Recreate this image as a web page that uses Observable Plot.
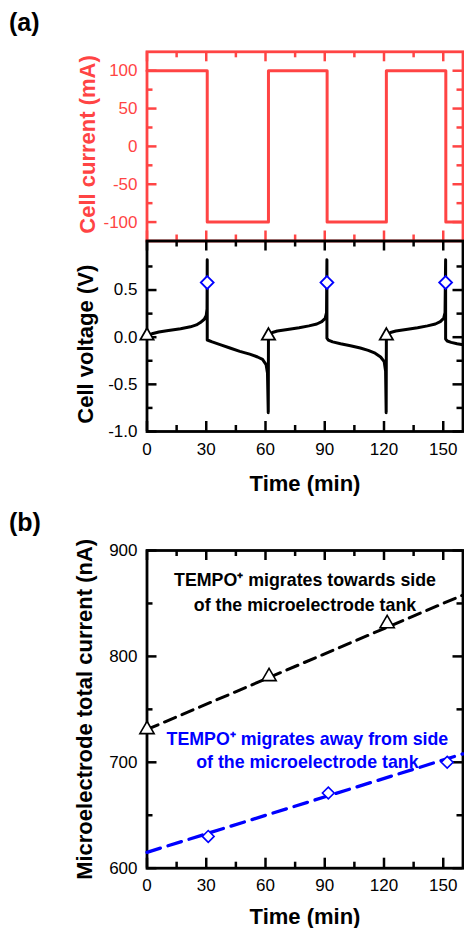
<!DOCTYPE html>
<html>
<head>
<meta charset="utf-8">
<script src="https://cdn.jsdelivr.net/npm/d3@7"></script>
<script src="https://cdn.jsdelivr.net/npm/@observablehq/plot@0.6"></script>
<style>
  body { margin: 0; background: #fff; }
  #wrap { position: relative; width: 464px; height: 928px; overflow: hidden; font-family: Arial, "Liberation Sans", sans-serif; }
  #wrap > svg, #wrap > figure { position: absolute; left: 0; margin: 0; }
  .tag { position: absolute; left: 9px; font-weight: bold; font-size: 25px; line-height: 1; color: #000; }
</style>
</head>
<body>
<div id="wrap">
  <div class="tag" style="top:10px">(a)</div>
  <div class="tag" style="top:510px">(b)</div>
</div>
<script>
// ---------- data ----------
const timeTicks = [0, 30, 60, 90, 120, 150];
const timeMinorTicks = [15, 45, 75, 105, 135];
const currentTicks = [-100, -50, 0, 50, 100];
const currentMinorTicks = [-75, -25, 25, 75];
const voltageTicks = [-1.0, -0.5, 0.0, 0.5];
const voltageMinorTicks = [-0.75, -0.25, 0.25, 0.75];
const totalTicks = [600, 700, 800, 900];
const totalMinorTicks = [650, 750, 850];

// cell current square wave (mA)
const currentTime  = [0, 30.5, 30.5, 61.5, 61.5, 91.2, 91.2, 121.2, 121.2, 151.3, 151.3, 160];
const currentValue = [100, 100, -100, -100, 100, 100, -100, -100, 100, 100, -100, -100];

// cell voltage (V)
const voltageTime = [
  0, 1, 3, 6, 10, 17, 22, 25, 27, 29, 30, 30.4, 30.5, 30.5,
  31.2, 33, 37, 42, 47, 52, 56, 58.5, 60.3, 61.0, 61.4, 61.5,
  62.2, 63.5, 66, 72, 77, 82, 86, 88.5, 90.2, 90.9, 91.1, 91.1,
  91.8, 94, 98, 103, 108, 112, 115.5, 118.3, 120.1, 120.8, 121.1, 121.2,
  121.9, 123.3, 126, 132, 137, 142, 146, 148.5, 150.2, 150.9, 151.2, 151.2,
  152, 154, 157, 160
];
const voltageValue = [
  0.0, 0.025, 0.04, 0.055, 0.068, 0.089, 0.11, 0.13, 0.155, 0.19, 0.23, 0.3, 0.82, -0.03,
  -0.035, -0.05, -0.078, -0.115, -0.15, -0.18, -0.21, -0.235, -0.29, -0.38, -0.8, 0.025,
  0.035, 0.05, 0.065, 0.085, 0.1, 0.12, 0.14, 0.165, 0.2, 0.26, 0.82, -0.01,
  -0.03, -0.05, -0.07, -0.09, -0.115, -0.14, -0.17, -0.21, -0.26, -0.36, -0.8, 0.025,
  0.035, 0.05, 0.065, 0.085, 0.1, 0.12, 0.14, 0.165, 0.2, 0.26, 0.82, -0.02,
  -0.04, -0.055, -0.07, -0.08
];
const chargeStartTime = [0, 61.5, 121.2];
const chargeStartVoltage = [0.015, 0.015, 0.015];
const chargeEndTime = [30.5, 91.1, 151.2];
const chargeEndVoltage = [0.58, 0.58, 0.58];

// microelectrode total current (nA)
const towardsTime = [0, 61.8, 121.6];
const towardsCurrent = [731, 781, 831];
const awayTime = [31, 91.8, 152];
const awayCurrent = [630, 671, 700];
const fitTime = [0, 160];
const towardsFit = [731, 858];
const awayFit = [615, 708];

const towardsLabel = "TEMPO\u207A migrates towards side\nof the microelectrode tank";
const awayLabel = "TEMPO\u207A migrates away from side\nof the microelectrode tank";

// ---------- drawing ----------
const RED = "#ff4444";
const BLUE = "#0000ff";
const FONT = 'Arial, "Liberation Sans", sans-serif';
const W = 464, ML = 146.5, MR = 1.5;
const IW = W - ML - MR;
const MAJ = 10, MIN = 6, TSW = 2.5, FSW = 2.8;

const rows = (xs, ys) => xs.map((x, i) => ({x, y: ys[i]}));

function frameTicks(ih, sides, yMaj, yMin) {
  const m = [];
  const xt = (data, len, side) => Plot.tickX(data, {x: d => d, strokeWidth: TSW,
    [side === "top" ? "insetBottom" : "insetTop"]: ih - len});
  const yt = (data, len, side) => Plot.tickY(data, {y: d => d, strokeWidth: TSW,
    [side === "left" ? "insetRight" : "insetLeft"]: IW - len});
  for (const s of ["top", "bottom"]) if (sides.includes(s)) m.push(xt(timeTicks, MAJ, s), xt(timeMinorTicks, MIN, s));
  for (const s of ["left", "right"]) if (sides.includes(s)) m.push(yt(yMaj, MAJ, s), yt(yMin, MIN, s));
  return m;
}

const baseStyle = (color) => ({color, background: "transparent", fontFamily: FONT, fontSize: "17px", overflow: "visible"});
const yLabel = (txt, dx, dy, fill) => Plot.text([txt], {text: d => d, frameAnchor: "left", textAnchor: "middle",
  lineAnchor: "middle", rotate: -90, dx, dy, fontSize: 22, fontWeight: "bold", fill});
const xLabel = (dy) => Plot.text(["Time (min)"], {text: d => d, frameAnchor: "bottom", textAnchor: "middle",
  lineAnchor: "top", dy, fontSize: 22, fontWeight: "bold", fill: "black"});

// panel (a) top: cell current
const IH1 = 240.5 - 51.3;
const cur = Plot.plot({
  width: W, height: 242, marginTop: 51.3, marginBottom: 1.5, marginLeft: ML, marginRight: MR,
  x: {domain: [0, 160], axis: null},
  y: {domain: [-125, 125], label: null},
  style: baseStyle(RED),
  marks: [
    Plot.frame({strokeWidth: FSW}),
    ...frameTicks(IH1, ["top", "bottom", "left", "right"], currentTicks, currentMinorTicks),
    Plot.axisY({ticks: currentTicks, tickSize: 0, tickPadding: 9.5, tickFormat: d => String(d), label: null, fontSize: 17}),
    Plot.line(rows(currentTime, currentValue), {x: "x", y: "y", stroke: RED, strokeWidth: 3}),
    yLabel("Cell current (mA)", -59.5, -2, RED)
  ]
});
cur.style.top = "0px";

// panel (a) bottom: cell voltage
const IH2 = 431 - 240.5;
const volt = Plot.plot({
  width: W, height: 253, marginTop: 2.5, marginBottom: 253 - 2.5 - IH2, marginLeft: ML, marginRight: MR,
  x: {domain: [0, 160], label: null},
  y: {domain: [-1, 1.02], label: null},
  style: baseStyle("black"),
  marks: [
    Plot.frame({strokeWidth: FSW}),
    ...frameTicks(IH2, ["top", "bottom", "left", "right"], voltageTicks, voltageMinorTicks),
    Plot.axisX({ticks: timeTicks, tickSize: 0, tickPadding: 11, tickFormat: d => String(d), label: null, fontSize: 17}),
    Plot.axisY({ticks: voltageTicks, tickSize: 0, tickPadding: 9.5, tickFormat: d => d.toFixed(1), label: null, fontSize: 17}),
    Plot.line(rows(voltageTime, voltageValue), {x: "x", y: "y", stroke: "black", strokeWidth: 3}),
    Plot.dot(rows(chargeStartTime, chargeStartVoltage), {x: "x", y: "y", symbol: "triangle", r: 4.9,
      fill: "white", stroke: "black", strokeWidth: 1.8}),
    Plot.dot(rows(chargeEndTime, chargeEndVoltage), {x: "x", y: "y", symbol: "diamond2", r: 5.8,
      fill: "white", stroke: BLUE, strokeWidth: 1.8}),
    yLabel("Cell voltage (V)", -61, 8, "black"),
    xLabel(44)
  ]
});
volt.style.top = "238px";

// panel (b): microelectrode total current
const IH3 = 867.7 - 550;
const tot = Plot.plot({
  width: W, height: 433, marginTop: 55, marginBottom: 433 - 55 - IH3, marginLeft: ML, marginRight: MR,
  x: {domain: [0, 160], label: null},
  y: {domain: [600, 900], label: null},
  style: baseStyle("black"),
  marks: [
    Plot.frame({strokeWidth: FSW}),
    ...frameTicks(IH3, ["top", "bottom", "left", "right"], totalTicks, totalMinorTicks),
    Plot.axisX({ticks: timeTicks, tickSize: 0, tickPadding: 10.5, tickFormat: d => String(d), label: null, fontSize: 17}),
    Plot.axisY({ticks: totalTicks, tickSize: 0, tickPadding: 9.5, tickFormat: d => String(d), label: null, fontSize: 17}),
    Plot.line(rows(fitTime, towardsFit), {x: "x", y: "y", stroke: "black", strokeWidth: 3, strokeDasharray: "12,7"}),
    Plot.line(rows(fitTime, awayFit), {x: "x", y: "y", stroke: BLUE, strokeWidth: 3.3, strokeDasharray: "14,8"}),
    Plot.dot(rows(towardsTime, towardsCurrent), {x: "x", y: "y", symbol: "triangle", r: 5.3,
      fill: "white", stroke: "black", strokeWidth: 1.6}),
    Plot.dot(rows(awayTime, awayCurrent), {x: "x", y: "y", symbol: "diamond2", r: 5.3,
      fill: "white", stroke: BLUE, strokeWidth: 1.6}),
    Plot.text([towardsLabel], {text: d => d, x: 80, y: 882.7, lineAnchor: "top", lineHeight: 1.38,
      fontSize: 17.8, fontWeight: "bold", fill: "black"}),
    Plot.text([awayLabel], {text: d => d, x: 81.2, y: 731.6, lineAnchor: "top", lineHeight: 1.3,
      fontSize: 17.8, fontWeight: "bold", fill: BLUE}),
    yLabel("Microelectrode total current (nA)", -62.5, 0, "black"),
    xLabel(40.5)
  ]
});
tot.style.top = "495px";

const wrap = document.getElementById("wrap");
wrap.appendChild(cur);
wrap.appendChild(volt);
wrap.appendChild(tot);
</script>
</body>
</html>
